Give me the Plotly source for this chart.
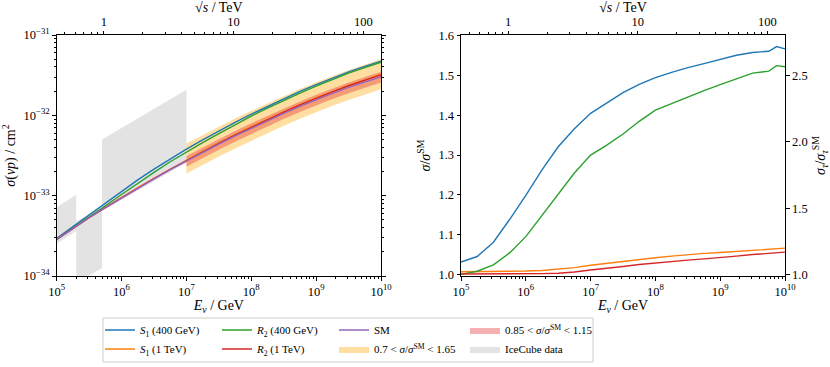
import math
import plotly.graph_objects as go

# %%
# log10(E_nu / GeV) and log10(sigma / cm^2)
log_e = [5.0, 5.25, 5.5, 5.75, 6.0, 6.25, 6.5, 6.75, 7.0, 7.25, 7.5, 7.75,
         8.0, 8.25, 8.5, 8.75, 9.0, 9.25, 9.5, 9.75, 10.0]
log_sig_s1_400 = [-33.532, -33.387, -33.241, -33.092, -32.946, -32.804, -32.669, -32.542, -32.420, -32.305,
                  -32.194, -32.087, -31.985, -31.888, -31.793, -31.703, -31.617, -31.536, -31.460, -31.391, -31.325]
log_sig_s1_1tev = [-33.542, -33.403, -33.272, -33.145, -33.021, -32.901, -32.785, -32.670, -32.558, -32.449,
                   -32.344, -32.241, -32.142, -32.047, -31.954, -31.866, -31.782, -31.703, -31.627, -31.558, -31.492]
log_sig_r2_400 = [-33.545, -33.402, -33.265, -33.125, -32.986, -32.845, -32.711, -32.578, -32.454, -32.339,
                  -32.227, -32.116, -32.010, -31.911, -31.814, -31.723, -31.636, -31.553, -31.475, -31.406, -31.338]
log_sig_r2_1tev = [-33.545, -33.406, -33.275, -33.148, -33.025, -32.904, -32.789, -32.674, -32.563, -32.455,
                   -32.349, -32.246, -32.148, -32.052, -31.960, -31.871, -31.787, -31.708, -31.632, -31.563, -31.496]
log_sig_sm = [-33.545, -33.406, -33.275, -33.148, -33.025, -32.905, -32.790, -32.677, -32.568, -32.461,
              -32.358, -32.257, -32.160, -32.066, -31.975, -31.888, -31.805, -31.727, -31.653, -31.585, -31.520]

# uncertainty bands around the SM, 1e7 - 1e10 GeV
log_e_band = [7.0, 7.25, 7.5, 7.75, 8.0, 8.25, 8.5, 8.75, 9.0, 9.25, 9.5, 9.75, 10.0]
band_wide_hi = [-32.351, -32.244, -32.141, -32.040, -31.943, -31.849, -31.758, -31.671, -31.588, -31.510,
                -31.436, -31.368, -31.303]
band_wide_lo = [-32.723, -32.616, -32.513, -32.412, -32.315, -32.221, -32.130, -32.043, -31.960, -31.882,
                -31.808, -31.740, -31.675]
band_narrow_hi = [-32.507, -32.400, -32.297, -32.196, -32.099, -32.005, -31.914, -31.827, -31.744, -31.666,
                  -31.592, -31.524, -31.459]
band_narrow_lo = [-32.639, -32.532, -32.429, -32.328, -32.231, -32.137, -32.046, -31.959, -31.876, -31.798,
                  -31.724, -31.656, -31.591]

# IceCube bins: energy edges, upper / lower edge of the shaded region (log10)
ice_e_lo = [5.0, 5.301, 5.699]
ice_e_hi = [5.301, 5.699, 7.0]
ice_up_lo = [-33.145, -33.32, -32.30]
ice_up_hi = [-32.99, -33.15, -31.68]
ice_dn_lo = [-33.60, -34.09, -33.19]
ice_dn_hi = [-33.44, -33.90, -32.59]

# ratios to SM, right panel
log_e_ratio = [5.0, 5.25, 5.5, 5.75, 6.0, 6.25, 6.5, 6.75, 7.0, 7.25, 7.5, 7.75,
               8.0, 8.25, 8.5, 8.75, 9.0, 9.25, 9.5, 9.75, 9.87, 10.0]
ratio_s1_400 = [1.031, 1.045, 1.081, 1.138, 1.199, 1.263, 1.321, 1.366, 1.405, 1.432, 1.457, 1.478,
                1.495, 1.508, 1.520, 1.530, 1.540, 1.551, 1.558, 1.561, 1.573, 1.567]
ratio_r2_400 = [1.000, 1.008, 1.024, 1.054, 1.095, 1.148, 1.200, 1.255, 1.300, 1.325, 1.353, 1.385,
                1.413, 1.430, 1.447, 1.462, 1.477, 1.491, 1.506, 1.511, 1.525, 1.522]
ratio_s1_1tev = [1.0067, 1.007, 1.0075, 1.008, 1.0084, 1.010, 1.0126, 1.017, 1.023, 1.028, 1.033, 1.038,
                 1.042, 1.046, 1.050, 1.053, 1.055, 1.058, 1.061, 1.064, 1.065, 1.066]
ratio_r2_1tev = [1.001, 1.001, 1.001, 1.001, 1.001, 1.002, 1.003, 1.006, 1.011, 1.015, 1.020, 1.025,
                 1.029, 1.033, 1.036, 1.039, 1.042, 1.046, 1.050, 1.053, 1.055, 1.056]

# tick labels
e_ticks = [5, 6, 7, 8, 9, 10]
sig_ticks = [-34, -33, -32, -31]
sqrt_s_ticks = [1, 10, 100]

C_BLUE, C_ORANGE, C_GREEN, C_RED, C_PURPLE = "#1f77b4", "#ff7f0e", "#2ca02c", "#d62728", "#9467bd"
FONT = "Liberation Serif"

# %%
def p10(a):
    return [10 ** v for v in a]

fig = go.Figure()

# IceCube shaded bins
for i in range(len(ice_e_lo)):
    fig.add_trace(go.Scatter(
        x=p10([ice_e_lo[i], ice_e_hi[i], ice_e_hi[i], ice_e_lo[i]]),
        y=p10([ice_up_lo[i], ice_up_hi[i], ice_dn_hi[i], ice_dn_lo[i]]),
        fill="toself", fillcolor="rgba(128,128,128,0.22)", mode="lines", line=dict(width=0),
        name="IceCube data", legend="legend4", legendgroup="ice", legendrank=2, showlegend=(i == 0),
        xaxis="x", yaxis="y", hoverinfo="skip"))

fig.add_trace(go.Scatter(
    x=p10(log_e_band + log_e_band[::-1]), y=p10(band_wide_hi + band_wide_lo[::-1]),
    fill="toself", fillcolor="rgba(255,165,0,0.37)", mode="lines", line=dict(width=0),
    name="0.7 < <i>σ</i>/<i>σ</i><sup>SM</sup> < 1.65", legend="legend3", legendrank=2,
    xaxis="x", yaxis="y"))
fig.add_trace(go.Scatter(
    x=p10(log_e_band + log_e_band[::-1]), y=p10(band_narrow_hi + band_narrow_lo[::-1]),
    fill="toself", fillcolor="rgba(230,50,50,0.38)", mode="lines", line=dict(width=0),
    name="0.85 < <i>σ</i>/<i>σ</i><sup>SM</sup> < 1.15", legend="legend4", legendrank=1,
    xaxis="x", yaxis="y"))

lines = [
    ("<i>S</i><sub>1</sub> (400 GeV)", log_sig_s1_400, ratio_s1_400, C_BLUE, "legend", 1),
    ("<i>S</i><sub>1</sub> (1 TeV)", log_sig_s1_1tev, ratio_s1_1tev, C_ORANGE, "legend", 2),
    ("<i>R</i><sub>2</sub> (400 GeV)", log_sig_r2_400, ratio_r2_400, C_GREEN, "legend2", 1),
    ("<i>R</i><sub>2</sub> (1 TeV)", log_sig_r2_1tev, ratio_r2_1tev, C_RED, "legend2", 2),
]
for name, sig, ratio, col, leg, rank in lines:
    fig.add_trace(go.Scatter(x=p10(log_e), y=p10(sig), mode="lines", line=dict(color=col, width=1.4),
                             name=name, legend=leg, legendrank=rank, xaxis="x", yaxis="y"))
    fig.add_trace(go.Scatter(x=p10(log_e_ratio), y=ratio, mode="lines", line=dict(color=col, width=1.4),
                             showlegend=False, xaxis="x2", yaxis="y2"))

fig.add_trace(go.Scatter(x=p10(log_e), y=p10(log_sig_sm), mode="lines", line=dict(color=C_PURPLE, width=1.4),
                         name="SM", legend="legend3", legendrank=1, xaxis="x", yaxis="y"))

# sqrt(s) range for the top axes, sqrt(2 m_p E)
m_p = 0.938
s_lo = math.log10(math.sqrt(2 * m_p * 1e5) / 1000)
s_hi = math.log10(math.sqrt(2 * m_p * 1e10) / 1000)

# invisible traces so the extra axes get drawn
for xa, ya, xs, ys in [("x3", "y", [1, 10], [1e-40, 1e-40]), ("x4", "y2", [1, 10], [0, 0]),
                       ("x2", "y4", [1e6, 1e7], [0, 0])]:
    fig.add_trace(go.Scatter(x=xs, y=ys, mode="lines", line=dict(width=0), opacity=0,
                             showlegend=False, hoverinfo="skip", xaxis=xa, yaxis=ya))

# %%
X1 = [56.7 / 830, 381 / 830]
X2 = [461 / 830, 785 / 830]
Y = [1 - 276 / 367, 1 - 35 / 367]


def minor_ticks(decades):
    vals = [m * 10.0 ** k for k in decades for m in range(2, 10)]
    return dict(tickmode="array", tickvals=vals, ticks="outside", ticklen=2,
                tickcolor="black", showgrid=False)


def pow_labels(exps):
    return dict(tickmode="array", tickvals=[10.0 ** k for k in exps],
                ticktext=["10<sup>%s</sup>" % str(k).replace("-", "−") for k in exps])


minor_e = minor_ticks(range(5, 10))
minor_sig = minor_ticks(range(-34, -31))
minor_s = minor_ticks(range(-1, 2))

tick_font = dict(family=FONT, size=12.5, color="black")
title_font = dict(family=FONT, size=14, color="black")
common = dict(showline=True, linecolor="black", linewidth=1, ticks="outside", ticklen=3.5,
              tickcolor="black", showgrid=False, zeroline=False, tickfont=tick_font, automargin=False)

fig.update_layout(
    width=830, height=367, margin=dict(l=0, r=0, t=0, b=0),
    plot_bgcolor="white", paper_bgcolor="white",
    font=dict(family=FONT, size=13, color="black"),
    xaxis=dict(domain=X1, anchor="y", type="log", range=[5, 10], **pow_labels(e_ticks),
               mirror=True, minor=minor_e, title=dict(text="<i>E</i><sub><i>ν</i></sub> / GeV",
                                                      font=title_font, standoff=0), **common),
    yaxis=dict(domain=Y, anchor="x", type="log", range=[-34, -31], **pow_labels(sig_ticks),
               mirror="ticks", minor=minor_sig, title=dict(text="<i>σ</i>(<i>νp</i>) / cm<sup>2</sup>",
                                                           font=title_font, standoff=4), **common),
    xaxis3=dict(overlaying="x", anchor="y", side="top", type="log", range=[s_lo, s_hi],
                tickmode="array", tickvals=sqrt_s_ticks, ticktext=[str(v) for v in sqrt_s_ticks],
                minor=minor_s, title=dict(text="√<i>s</i> / TeV", font=title_font, standoff=2), **common),
    xaxis2=dict(domain=X2, anchor="y2", type="log", range=[5, 10], **pow_labels(e_ticks),
                mirror=True, minor=minor_e, title=dict(text="<i>E</i><sub><i>ν</i></sub> / GeV",
                                                       font=title_font, standoff=0), **common),
    yaxis2=dict(domain=Y, anchor="x2", range=[0.996, 1.602], dtick=0.1, tickformat=".1f", mirror=True,
                title=dict(text="<i>σ</i>/<i>σ</i><sup>SM</sup>", font=title_font, standoff=4), **common),
    xaxis4=dict(overlaying="x2", anchor="y2", side="top", type="log", range=[s_lo, s_hi],
                tickmode="array", tickvals=sqrt_s_ticks, ticktext=[str(v) for v in sqrt_s_ticks],
                minor=minor_s, title=dict(text="√<i>s</i> / TeV", font=title_font, standoff=2), **common),
    yaxis4=dict(overlaying="y2", anchor="x2", side="right", range=[0.988, 2.806],
                tickvals=[1.0, 1.5, 2.0, 2.5], tickformat=".1f",
                title=dict(text="<i>σ</i><sub><i>τ</i></sub>/<i>σ</i><sub><i>τ</i></sub><sup>SM</sup>",
                           font=title_font, standoff=9), **common),
)

leg_common = dict(orientation="v", yanchor="middle", y=1 - 339.5 / 367, xanchor="left",
                  bgcolor="rgba(0,0,0,0)", itemwidth=30, tracegroupgap=0,
                  font=dict(family=FONT, size=11, color="black"))
fig.update_layout(
    legend=dict(x=100 / 830, **leg_common),
    legend2=dict(x=217 / 830, **leg_common),
    legend3=dict(x=334 / 830, **leg_common),
    legend4=dict(x=465 / 830, **leg_common),
)

# legend frame
fig.add_shape(type="rect", xref="paper", yref="paper", x0=103 / 830, x1=593 / 830,
              y0=1 - 362 / 367, y1=1 - 318 / 367, line=dict(color="#cccccc", width=1))

# the page body has a default 8px margin; drop it so the figure sits at the corner
fig.write_html("out.html", config={"displayModeBar": False},
               post_script="document.body.style.margin = '0px';")
